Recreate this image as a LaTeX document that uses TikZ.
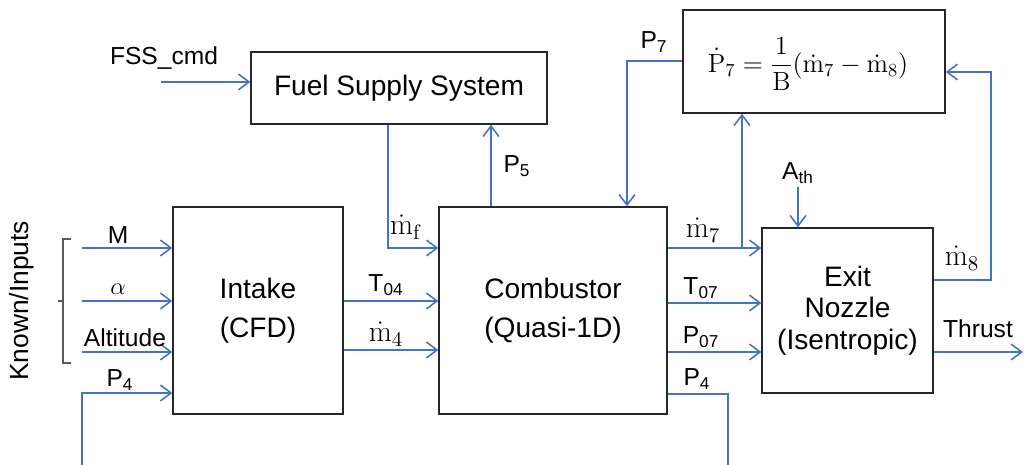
\RequirePackage{fix-cm}
\documentclass[tikz,border=0pt]{standalone}
\usepackage[no-math]{fontspec}
\setmainfont{Liberation Sans}
\usetikzlibrary{arrows.meta}
\definecolor{lblue}{RGB}{68,114,196}
\definecolor{bracegray}{RGB}{90,90,90}
\tikzset{
  blk/.style={draw=black!85, line width=0.8pt, inner sep=0pt, align=center, font=\fontsize{16}{22}\selectfont},
  conn/.style={draw=lblue, line width=0.9pt},
  arr/.style={conn, -{Straight Barb[length=6pt,width=9pt]}},
  lbl/.style={inner sep=0pt, font=\fontsize{14}{16}\selectfont},
  mlbl/.style={inner sep=0pt, font=\fontsize{17}{18}\selectfont},
}
\begin{document}
\begin{tikzpicture}[x=0.02cm, y=-0.02cm]
\useasboundingbox (0,0) rectangle (1024,465);
% blocks
\node[blk, minimum width=3.4cm, minimum height=4.14cm] (intake) at (258,310.5) {Intake\\(CFD)};
\node[blk, minimum width=4.56cm, minimum height=4.14cm] (comb) at (553,310.5) {Combustor\\(Quasi-1D)};
\node[blk, minimum width=3.42cm, minimum height=3.3cm, font=\fontsize{16}{18}\selectfont] (noz) at (847.5,310.5) {Exit\\Nozzle\\(Isentropic)};
\node[blk, minimum width=5.24cm, minimum height=2.06cm] (p7box) at (814,61.5) {};
\node[inner sep=0pt, font=\fontsize{15}{18}\selectfont] (eq) at (808,64) {$\displaystyle \dot{\mathrm{P}}_7=\frac{1}{\mathrm{B}}(\dot{\mathrm{m}}_7-\dot{\mathrm{m}}_8)$};
\node[blk, minimum width=5.92cm, minimum height=1.44cm] (fss) at (399,88) {Fuel Supply System};
% coordinates
\coordinate (sFSS) at (161,82);
\coordinate (sM) at (82,248);
\coordinate (sA) at (82,301);
\coordinate (sAlt) at (82,352);
\coordinate (sP4) at (82,465);
\coordinate (cP4) at (82,393);
\coordinate (yT04) at (0,301);
\coordinate (yM4) at (0,350);
\coordinate (xMf) at (388,0);
\coordinate (cMf) at (388,248);
\coordinate (xP5) at (491,0);
\coordinate (cP7) at (627,61);
\coordinate (j7) at (742,248);
\coordinate (yT07) at (0,303);
\coordinate (yP07) at (0,352);
\coordinate (cP4r) at (728,394);
\coordinate (eP4r) at (728,465);
\coordinate (ath) at (798,187);
\coordinate (c8a) at (991,280);
\coordinate (c8b) at (991,72);
\coordinate (thrust) at (1023,352);
% connectors
\draw[arr] (sFSS) -- (sFSS -| fss.west);
\draw[arr] (sM) -- (sM -| intake.west);
\draw[arr] (sA) -- (sA -| intake.west);
\draw[arr] (sAlt) -- (sAlt -| intake.west);
\draw[arr] (sP4) -- (cP4) -- (cP4 -| intake.west);
\draw[arr] (yT04 -| intake.east) -- (yT04 -| comb.west);
\draw[arr] (yM4 -| intake.east) -- (yM4 -| comb.west);
\draw[arr] (xMf |- fss.south) -- (cMf) -- (cMf -| comb.west);
\draw[arr] (xP5 |- comb.north) -- (xP5 |- fss.south);
\draw[arr] (cP7 -| p7box.west) -- (cP7) -- (cP7 |- comb.north);
\draw[arr] (j7 -| comb.east) -- (j7 -| noz.west);
\draw[arr] (j7) -- (j7 |- p7box.south);
\draw[arr] (yT07 -| comb.east) -- (yT07 -| noz.west);
\draw[arr] (yP07 -| comb.east) -- (yP07 -| noz.west);
\draw[conn] (cP4r -| comb.east) -- (cP4r) -- (eP4r);
\draw[arr] (ath) -- (ath |- noz.north);
\draw[arr] (c8a -| noz.east) -- (c8a) -- (c8b) -- (c8b -| p7box.east);
\draw[arr] (thrust -| noz.east) -- (thrust);
% brace
\draw[bracegray, line width=0.8pt] (71,239) -- (63,239) -- (63,363) -- (71,363) (63,301) -- (58,301);
% labels
\node[lbl, rotate=90, font=\fontsize{15}{18}\selectfont] (known) at (22,301) {Known/Inputs};
\node[lbl] (lfss) at (164,58) {FSS\_cmd};
\node[lbl] (lM) at (118,235) {M};
\node[lbl] (la) at (118,289) {$\alpha$};
\node[lbl] (lalt) at (125,338) {Altitude};
\node[lbl] (lp4) at (120,380) {P\textsubscript{4}};
\node[mlbl] (lmf) at (406,227) {$\dot{\mathrm{m}}_{\mathrm{f}}$};
\node[lbl] (lp5) at (517,166) {P\textsubscript{5}};
\node[lbl] (lt04) at (386,285) {T\textsubscript{04}};
\node[mlbl] (lm4) at (386,334) {$\dot{\mathrm{m}}_{4}$};
\node[mlbl] (lm7) at (703,230) {$\dot{\mathrm{m}}_{7}$};
\node[lbl] (lt07) at (701,288) {T\textsubscript{07}};
\node[lbl] (lp07) at (701,337) {P\textsubscript{07}};
\node[lbl] (lp4r) at (697,379) {P\textsubscript{4}};
\node[lbl] (lp7) at (654,42) {P\textsubscript{7}};
\node[lbl] (lath) at (798,173) {A\textsubscript{th}};
\node[mlbl] (lm8) at (962,258) {$\dot{\mathrm{m}}_{8}$};
\node[lbl] (lthr) at (978,329) {Thrust};
\end{tikzpicture}
\end{document}
